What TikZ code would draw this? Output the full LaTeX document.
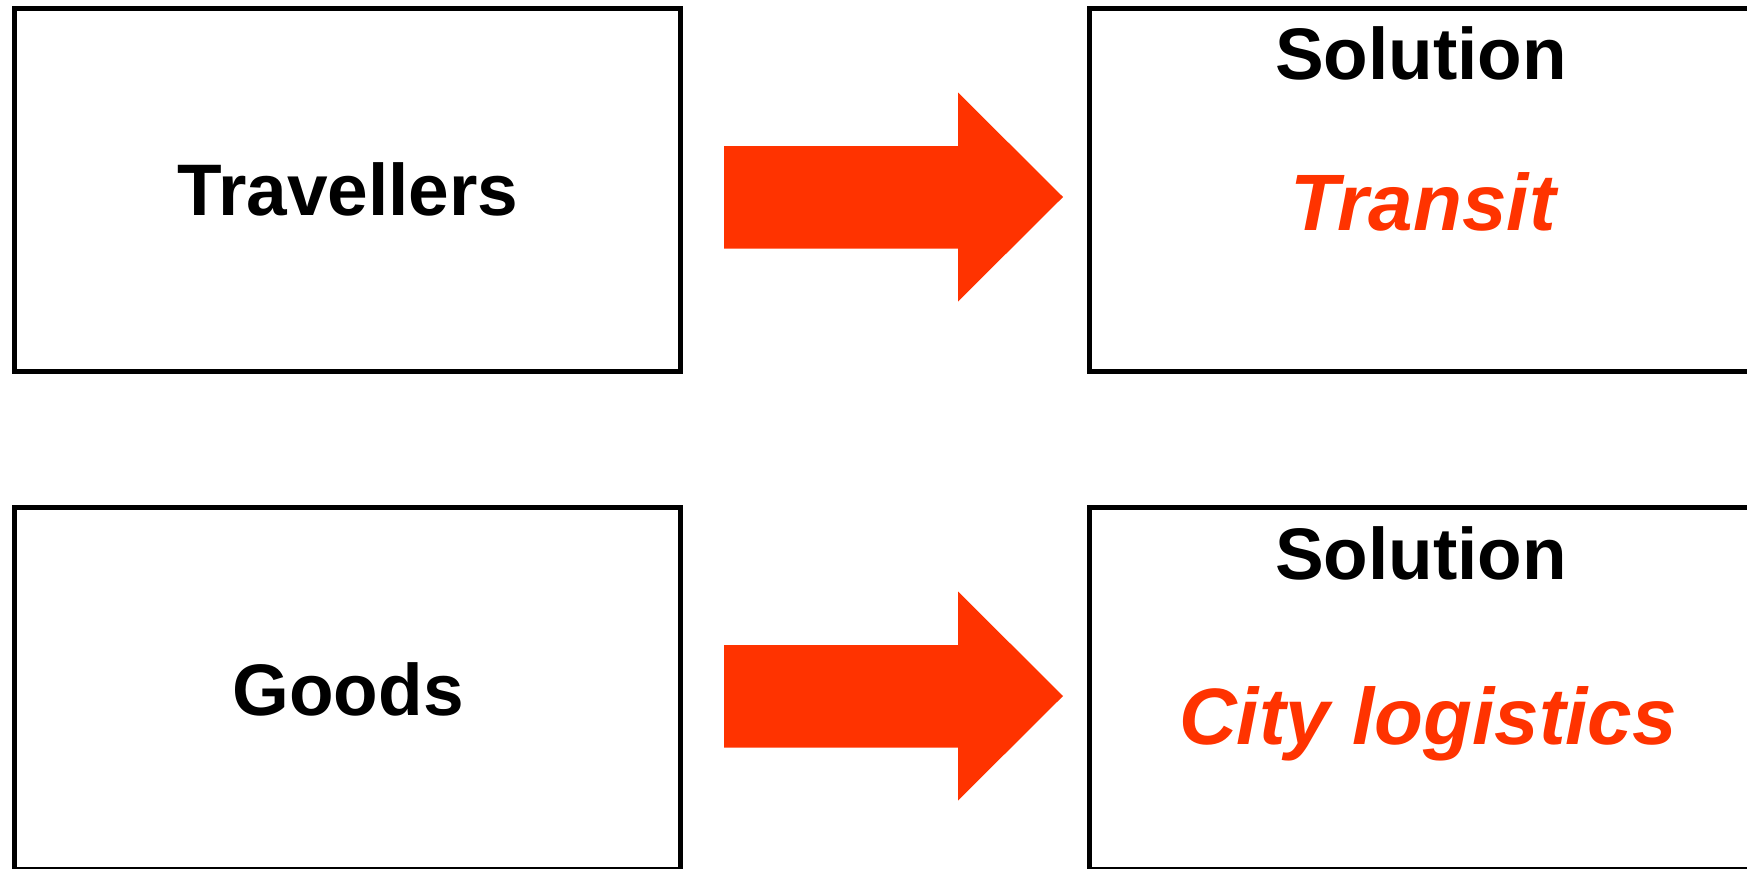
\documentclass[tikz,border=0pt]{standalone}
\usepackage{fontspec}
\setmainfont{Liberation Sans}
\definecolor{arrowred}{HTML}{FF3300}
\begin{document}
\begin{tikzpicture}[x=1pt,y=-1pt,
  box/.style={draw=black,line width=5pt,fill=none,inner sep=0pt},
  lbl/.style={font=\fontsize{73}{80}\selectfont\bfseries,inner sep=0pt,anchor=base},
  sol/.style={lbl,text=black},
  redlbl/.style={font=\fontsize{80}{88}\selectfont\bfseries\itshape,text=arrowred,inner sep=0pt,anchor=base},
  fat/.style={fill=arrowred,draw=none}]
\clip (0,0) rectangle (1747,868);
\fill[white] (0,0) rectangle (1747,868);
% boxes
\node[box,minimum width=666pt,minimum height=363pt] (trav) at (347.5,189.5) {};
\node[box,minimum width=668pt,minimum height=363pt] (solA) at (1423,189.5) {};
\node[box,minimum width=666pt,minimum height=362pt] (goods) at (347.5,688) {};
\node[box,minimum width=668pt,minimum height=362pt] (solB) at (1423,688) {};
% texts
\node[lbl] (tTrav) at (348,215) {Travellers};
\node[lbl] (tGoods) at (348,715) {Goods};
\node[sol] (tSolA) at (1421,79.5) {Solution};
\node[redlbl] (tTransit) at (1423,230) {Transit};
\node[sol] (tSolB) at (1421,579.5) {Solution};
\node[redlbl] (tCity) at (1428,744) {City logistics};
% fat arrows
\fill[fat] (724,146) -- (958,146) -- (958,92.5) -- (1063,197) -- (958,301.5) -- (958,248.5) -- (724,248.5) -- cycle;
\fill[fat] (724,645) -- (958,645) -- (958,591.5) -- (1063,696) -- (958,800.5) -- (958,747.5) -- (724,747.5) -- cycle;
\end{tikzpicture}
\end{document}
